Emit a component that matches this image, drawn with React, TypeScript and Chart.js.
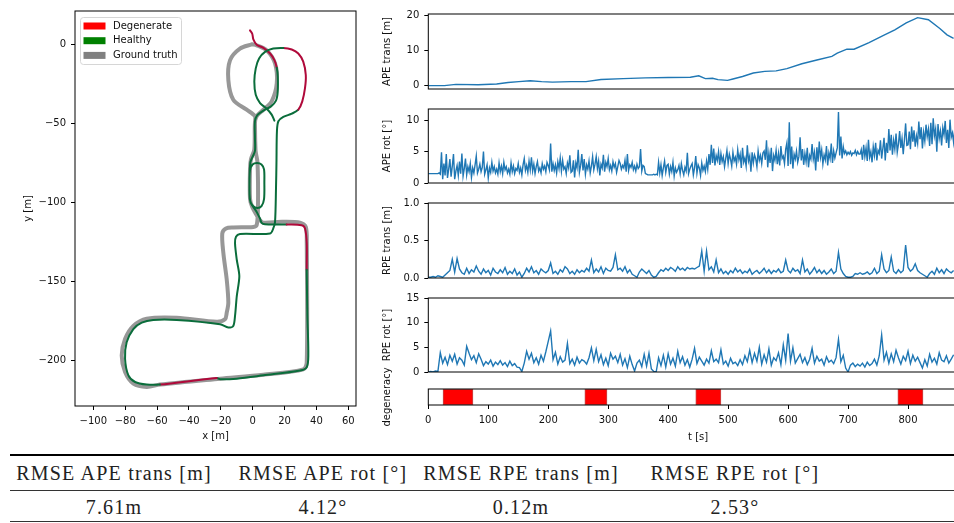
import React, { useEffect, useRef } from 'react';
import { Chart, registerables } from 'chart.js';

Chart.register(...registerables);

// ---------------- trajectory (metres) ----------------
const estX = [-1.7, -0.3, 0.4, 2.5, 6.7, 10.9, 13.6, 15.1, 15.7, 15.7, 14.6, 11.5, 6.7, 2.9, 1.4, 1.4, 1.4, -0.3, -1.5, -2.0,
  -1.7, 0.2, 3.0, 5.5, 7.1, 7.3, 7.1, 5.5, 2.7, -0.1, -1.7, -2.0, -1.4, 2.5, 4.6, 5.6, 7.7, 21.3, 30.7, 32.8,
  33.9, 33.9, 34.3, 34.9, 33.9, 29.7, 6.7, -10.0, -20.5, -22.6, -58.2, -66.5, -73.8, -78.0, -80.1, -79.1, -74.9, -69.6, -62.4, -47.7,
  -20.5, -15.3, -12.2, -11.1, -10.0, -8.4, -10.0, -11.1, -10.5, -8.0, 10.9, 12.9, 14.0, 14.6, 14.9, 15.2, 16.1, 19.2, 24.5, 28.6,
  31.1, 32.8, 33.3, 31.7, 28.6, 24.5, 19.2, 12.9, 7.7, 4.0, 1.9, 1.0, 1.9, 4.6, 8.8, 11.9, 13.6];
const estY = [8.8, 6.7, 3.1, -0.2, -2.3, -5.8, -10.0, -14.8, -20.4, -29.8, -35.7, -39.3, -42.0, -44.9, -48.7, -59.1, -67.5, -71.7, -74.8, -87.3,
  -98.6, -102.4, -103.6, -102.4, -98.0, -87.3, -79.2, -76.1, -75.2, -76.1, -79.8, -90.5, -99.9, -106.1, -110.4, -113.1, -114.0, -114.1, -114.5, -116.6,
  -126.0, -142.7, -172.0, -197.1, -204.4, -206.5, -209.6, -211.7, -212.1, -211.3, -215.4, -215.4, -213.8, -209.6, -199.1, -188.7, -180.3, -176.2, -174.5, -174.5,
  -177.2, -179.3, -178.3, -172.0, -159.4, -146.9, -136.4, -126.0, -121.8, -120.1, -119.8, -116.6, -112.4, -91.5, -74.8, -54.9, -48.7, -46.0, -43.9, -41.4,
  -36.1, -27.8, -19.4, -11.0, -5.8, -3.3, -2.3, -2.7, -4.8, -9.0, -15.2, -23.6, -32.0, -37.2, -40.8, -44.5, -48.3];
// 1 = the segment starting at this pose was flagged degenerate
const estDegenerate = [1, 1, 1, 1, 1, 1, 1, 0, 0, 0, 0, 0, 0, 0, 0, 0, 0, 0, 0, 0,
  0, 0, 0, 0, 0, 0, 0, 0, 0, 0, 0, 0, 0, 0, 0, 0, 0, 1, 1, 1,
  1, 0, 0, 0, 0, 0, 0, 0, 0, 1, 0, 0, 0, 0, 0, 0, 0, 0, 0, 0,
  0, 0, 0, 0, 0, 0, 0, 0, 0, 0, 0, 0, 0, 0, 0, 0, 0, 0, 0, 1,
  1, 1, 1, 1, 1, 1, 0, 0, 0, 0, 0, 0, 0, 0, 0, 0, 0];
const gtX = [-0.6, 2.5, 8.8, 14.0, 15.1, 11.9, 6.7, 2.5, 1.4, 1.0, -1.1, -1.7, -1.7, -0.3, 2.5, 4.6, 6.7, 18.2, 29.7, 33.3,
  33.9, 33.9, 31.7, 6.7, -20.5, -58.2, -66.5, -74.9, -80.1, -82.2, -80.1, -74.9, -66.5, -47.7, -22.6, -17.4, -16.3, -15.3, -16.3, -18.4,
  -19.1, -16.8, -12.2, 0.4, 2.5, 3.3, 3.0, 1.8, 1.4, 1.4, -3.8, -12.2, -15.3, -14.2, -8.0, -0.6];
const gtY = [0, -0.6, -3.8, -12.1, -24.6, -36.1, -41.4, -45.5, -49.7, -66.5, -72.7, -79.0, -97.8, -103.0, -108.2, -111.4, -112.9, -112.4, -112.9, -115.6,
  -125.0, -201.3, -205.8, -209.2, -211.7, -215.4, -216.9, -214.8, -207.5, -197.1, -186.6, -178.3, -173.7, -173.1, -175.7, -174.1, -169.9, -163.6, -149.0, -132.3,
  -119.8, -116.6, -116.0, -115.6, -114.5, -103.0, -74.8, -67.3, -49.7, -45.5, -41.4, -35.1, -22.6, -10.0, -2.7, 0];

const trajXTicks = [-100, -80, -60, -40, -20, 0, 20, 40, 60];
const trajYTicks = [0, -50, -100, -150, -200];
const legendLabels = ['Degenerate', 'Healthy', 'Ground truth'];
const legendColors = ['#ff0000', '#008000', '#808080'];

// ---------------- error time series ----------------
const apeTransT = [0, 27, 46, 83, 114, 133, 151, 170, 189, 207, 238, 263, 288, 325, 362, 400, 437, 451, 462, 474, 483, 499,
  508, 524, 542, 561, 580, 598, 623, 648, 673, 682, 698, 710, 735, 760, 778, 797, 816, 834, 853, 865, 876];
const apeTransV = [0, 0, 0.35, 0.26, 0.44, 0.9, 1.15, 1.4, 1.15, 1.0, 1.15, 1.15, 1.75, 2.0, 2.2, 2.3, 2.4, 2.8, 2.0, 2.1, 1.7, 1.5,
  1.9, 2.6, 3.6, 4.05, 4.2, 4.85, 6.25, 7.3, 8.35, 9.25, 10.4, 10.4, 12.3, 14.4, 15.9, 17.9, 19.4, 18.8, 16.3, 14.5, 13.5];

const apeRotStep = 2; // seconds between APE rotation samples
const apeRotV = [
  1.5, 1.5, 1.5, 1.5, 1.5, 1.5, 1.5, 1.5, 1.5, 1.6, 1.4, 4.9, 0.6, 3.1, 1.2, 4.6, 0.8, 2.2, 3.8, 1.0,
  2.7, 4.6, 0.6, 1.9, 2.8, 1.2, 3.4, 1.5, 4.7, 1.1, 2.3, 3.9, 1.3, 2.6, 1.8, 3.1, 0.9, 2.4, 1.6, 2.9,
  4.3, 1.6, 2.2, 3.0, 1.8, 2.5, 5.0, 1.4, 2.1, 2.9, 0.8, 2.4, 1.7, 3.3, 1.9, 2.6, 1.6, 2.2, 1.4, 3.2,
  1.8, 2.7, 1.5, 3.3, 2.1, 2.6, 1.6, 2.2, 1.4, 3.2, 1.8, 2.7, 1.5, 2.3, 2.0, 3.1, 1.7, 2.4, 1.3, 2.9,
  3.9, 2.0, 2.8, 1.7, 3.5, 2.1, 4.1, 1.9, 3.0, 1.5, 2.6, 3.4, 1.9, 2.4, 1.6, 3.1, 2.2, 2.7, 1.8, 3.3,
  2.8, 2.1, 6.3, 1.8, 3.1, 2.0, 2.9, 1.6, 3.4, 2.3, 4.0, 1.9, 3.6, 2.2, 2.6, 1.5, 3.2, 2.4, 4.4, 1.7,
  1.9, 3.6, 0.9, 3.2, 2.4, 5.3, 1.7, 2.8, 4.6, 2.0, 3.8, 1.4, 2.9, 2.2, 3.5, 1.6, 2.7, 4.2, 2.1, 3.0,
  4.2, 2.3, 3.5, 1.2, 3.0, 2.4, 4.5, 1.8, 3.3, 2.6, 3.9, 2.1, 2.8, 1.9, 3.4, 2.5, 3.1, 1.7, 2.6, 3.6,
  3.1, 2.2, 2.8, 2.4, 3.6, 1.8, 4.6, 2.0, 2.9, 2.5, 3.3, 2.1, 2.7, 1.9, 3.0, 2.3, 2.6, 5.4, 1.9, 2.8,
  2.6, 1.5, 1.4, 1.3, 1.3, 1.3, 1.3, 1.3, 1.4, 1.3, 1.4, 1.3, 3.3, 1.6, 2.9, 1.2, 2.4, 3.5, 1.7, 2.8,
  3.0, 1.4, 2.6, 1.8, 3.3, 1.1, 2.4, 1.7, 2.1, 2.8, 1.5, 3.1, 2.0, 1.3, 2.5, 1.9, 4.8, 1.5, 2.2, 2.7,
  3.1, 1.3, 2.4, 4.3, 1.6, 2.9, 2.4, 1.2, 3.2, 2.0, 2.7, 1.8, 3.5, 2.2, 4.6, 2.9, 6.1, 3.2, 5.5, 2.8,
  4.4, 3.6, 5.0, 2.9, 4.7, 3.4, 4.2, 2.6, 3.9, 5.2, 3.1, 4.6, 3.8, 2.7, 4.9, 3.5, 4.1, 3.0, 5.3, 3.7,
  4.6, 2.4, 5.6, 3.3, 4.0, 2.7, 6.0, 3.5, 4.3, 1.8, 4.9, 3.2, 4.5, 3.9, 2.6, 5.1, 3.6, 4.4, 3.1, 4.8,
  5.1, 3.7, 6.8, 2.5, 4.8, 3.2, 5.6, 1.9, 4.4, 3.6, 5.2, 3.0, 4.7, 2.8, 5.9, 3.9, 4.3, 3.1, 5.4, 6.4,
  2.7, 9.7, 3.0, 5.8, 2.3, 4.6, 3.8, 5.1, 3.3, 4.2, 7.3, 3.6, 5.4, 2.9, 4.7, 3.4, 5.6, 2.5, 4.4, 3.8,
  6.2, 3.8, 4.9, 2.0, 5.7, 3.4, 6.6, 4.1, 5.3, 3.0, 4.5, 3.7, 5.9, 2.8, 4.8, 3.9, 6.3, 3.2, 5.1, 4.0,
  4.8, 5.6, 11.3, 4.4, 7.4, 3.9, 5.8, 4.7, 5.1, 4.5, 4.9, 4.6, 5.0, 4.4, 4.8, 4.7, 5.2, 4.5, 5.0, 4.6,
  4.6, 5.3, 3.7, 6.1, 4.2, 5.6, 3.5, 6.9, 4.1, 5.0, 3.3, 5.8, 4.4, 6.4, 3.6, 5.2, 4.7, 6.8, 3.9, 5.5,
  7.2, 3.6, 6.4, 4.8, 8.6, 5.2, 7.7, 4.5, 6.8, 5.4, 7.9, 4.9, 6.2, 8.3, 5.6, 7.1, 4.6, 6.9, 9.5, 6.0,
  6.1, 8.2, 5.4, 9.0, 6.6, 8.4, 5.8, 7.5, 6.3, 9.8, 7.0, 8.9, 5.5, 8.1, 6.7, 9.3, 7.4, 8.6, 5.9, 9.6,
  6.2, 10.3, 7.5, 8.6, 5.0, 9.4, 7.1, 8.3, 6.0, 8.8, 7.7, 9.9, 6.4, 8.5, 5.6, 10.1, 7.3, 8.0, 6.5, 8.7];

const rpeStep = 4; // seconds between RPE samples
const rpeTransV = [
  0.01, 0.01, 0.02, 0.01, 0.03, 0.02, 0.01, 0.04, 0.07, 0.10,
  0.25, 0.08, 0.26, 0.12, 0.07, 0.05, 0.13, 0.06, 0.11, 0.08,
  0.16, 0.09, 0.05, 0.12, 0.07, 0.10, 0.04, 0.13, 0.08, 0.06,
  0.11, 0.07, 0.14, 0.05, 0.09, 0.06, 0.12, 0.04, 0.08, 0.01,
  0.06, 0.13, 0.08, 0.15, 0.07, 0.10, 0.05, 0.12, 0.09, 0.07,
  0.10, 0.20, 0.06, 0.09, 0.05, 0.11, 0.08, 0.15, 0.12, 0.06,
  0.09, 0.05, 0.11, 0.07, 0.10, 0.08, 0.13, 0.09, 0.24, 0.07,
  0.12, 0.08, 0.15, 0.06, 0.13, 0.10, 0.09, 0.14, 0.31, 0.11,
  0.13, 0.09, 0.15, 0.07, 0.11, 0.05, 0.03, 0.01, 0.08, 0.12,
  0.09, 0.06, 0.10, 0.04, 0.01, 0.02, 0.07, 0.11, 0.09, 0.13,
  0.10, 0.14, 0.12, 0.09, 0.15, 0.11, 0.13, 0.10, 0.14, 0.12,
  0.13, 0.12, 0.14, 0.16, 0.36, 0.09, 0.36, 0.11, 0.15, 0.08,
  0.24, 0.07, 0.12, 0.06, 0.09, 0.05, 0.10, 0.07, 0.13, 0.08,
  0.11, 0.06, 0.09, 0.07, 0.12, 0.05, 0.08, 0.10, 0.06, 0.09,
  0.13, 0.07, 0.11, 0.06, 0.10, 0.08, 0.12, 0.07, 0.09, 0.24,
  0.10, 0.07, 0.13, 0.09, 0.11, 0.06, 0.24, 0.08, 0.12, 0.05,
  0.09, 0.14, 0.07, 0.11, 0.06, 0.10, 0.05, 0.08, 0.12, 0.06,
  0.09, 0.34, 0.12, 0.06, 0.02, 0.01, 0.01, 0.02, 0.06, 0.05,
  0.07, 0.05, 0.06, 0.08, 0.05, 0.07, 0.13, 0.06, 0.09, 0.31,
  0.12, 0.07, 0.10, 0.28, 0.09, 0.06, 0.11, 0.07, 0.10, 0.44,
  0.14, 0.09, 0.12, 0.19, 0.10, 0.07, 0.05, 0.03, 0.01, 0.06,
  0.09, 0.05, 0.13, 0.07, 0.11, 0.06, 0.12, 0.09, 0.07, 0.10];
const rpeRotV = [
  0.0, 0.1, 0.0, 0.2, 0.1, 3.9, 1.8, 3.0, 1.5, 3.4,
  2.2, 3.6, 1.6, 2.9, 2.4, 1.4, 5.2, 3.8, 2.5, 3.3,
  1.9, 3.7, 2.6, 1.3, 2.1, 1.6, 2.4, 1.2, 2.0, 1.5,
  2.3, 1.4, 1.9, 1.1, 2.2, 1.3, 1.7, 1.0, 0.9, 0.1,
  1.8, 4.2, 2.6, 3.8, 1.9, 2.9, 1.6, 3.4, 2.2, 4.1,
  6.2, 8.3, 2.5, 4.0, 1.6, 3.1, 2.0, 2.4, 5.8, 1.7,
  2.6, 1.4, 3.0, 1.8, 2.5, 2.2, 1.6, 2.9, 4.9, 2.3,
  4.6, 2.1, 3.5, 1.5, 2.8, 1.3, 3.8, 2.6, 3.2, 1.9,
  3.6, 1.4, 2.7, 0.9, 3.2, 1.5, 0.2, 1.8, 2.4, 1.1,
  3.6, 1.2, 3.8, 0.6, 0.1, 0.0, 2.9, 1.3, 3.4, 1.0,
  3.7, 1.6, 2.8, 1.2, 4.2, 1.9, 3.1, 1.4, 2.5, 1.0,
  2.6, 4.8, 1.7, 3.0, 2.2, 1.4, 2.6, 1.8, 4.3, 2.1,
  2.6, 1.9, 4.5, 1.6, 2.2, 1.2, 2.8, 1.7, 2.0, 1.3,
  2.5, 1.5, 3.3, 2.1, 4.4, 1.9, 3.8, 2.2, 5.0, 1.6,
  3.5, 2.0, 4.7, 1.4, 2.9, 2.3, 3.9, 1.5, 5.5, 2.4,
  7.8, 2.2, 4.9, 1.8, 2.7, 3.6, 1.9, 2.9, 1.5, 2.6,
  4.8, 1.8, 3.2, 2.2, 2.6, 1.4, 3.1, 2.0, 2.4, 1.7,
  2.9, 6.6, 2.1, 3.4, 0.8, 0.0, 1.4, 1.8, 1.1, 1.6,
  1.2, 1.8, 1.0, 2.0, 1.3, 1.7, 2.6, 1.4, 3.3, 7.5,
  2.4, 4.0, 1.8, 3.7, 2.1, 4.4, 2.9, 1.6, 3.2, 2.3,
  4.2, 1.7, 3.4, 2.2, 3.0, 1.9, 0.8, 2.5, 1.2, 3.6,
  2.0, 2.8, 1.6, 3.9, 2.4, 2.1, 3.3, 1.8, 2.6, 3.5];

// degenerate intervals [s]
const degenStart = [24.5, 261, 446, 783];
const degenEnd = [74.5, 298, 488, 825];
const timeTicks = [0, 100, 200, 300, 400, 500, 600, 700, 800];

// ---------------- summary table ----------------
const tableHeaders = ['RMSE APE trans [m]', 'RMSE APE rot [°]', 'RMSE RPE trans [m]', 'RMSE RPE rot [°]'];
const tableValues = ['7.61m', '4.12°', '0.12m', '2.53°'];

// ---------------- styling ----------------
const FONT = "'DejaVu Sans', sans-serif";
const TEXT = '#111';
const BLUE = '#1f77b4';
const TRAJ_RED = '#b0093a';
const TRAJ_GREEN = '#0a6d3b';
const tickFont = { family: FONT, size: 10 };
const colCenters = [114, 323, 521, 735];

const minus = (v: number | string) => String(v).replace('-', '\u2212');

const framePlugin = {
  id: 'frame',
  afterDraw(chart: any) {
    const { ctx, chartArea: a } = chart;
    ctx.save();
    ctx.strokeStyle = '#000';
    ctx.lineWidth = 1;
    ctx.strokeRect(a.left, a.top, a.right - a.left, a.bottom - a.top);
    ctx.restore();
  },
};

const legendPlugin = {
  id: 'trajLegend',
  afterDraw(chart: any) {
    const { ctx, chartArea: a } = chart;
    const x0 = a.left + 5.5;
    const y0 = a.top + 6.5;
    const w = 101;
    const h = 47;
    ctx.save();
    ctx.beginPath();
    ctx.roundRect(x0, y0, w, h, 3);
    ctx.fillStyle = 'rgba(255,255,255,0.8)';
    ctx.fill();
    ctx.strokeStyle = '#d6d6d6';
    ctx.lineWidth = 1;
    ctx.stroke();
    ctx.font = `10px ${FONT}`;
    ctx.textBaseline = 'middle';
    legendLabels.forEach((label, i) => {
      const cy = y0 + 8.5 + i * 14.7;
      ctx.fillStyle = legendColors[i];
      ctx.fillRect(x0 + 3, cy - 3.5, 22, 7);
      ctx.fillStyle = TEXT;
      ctx.fillText(label, x0 + 32.5, cy);
    });
    ctx.restore();
  },
};

const tickGrid = { drawOnChartArea: false, drawTicks: true, tickLength: 4, color: '#000', tickColor: '#000', tickWidth: 1 };

function setTicks(values: number[]) {
  return (axis: any) => {
    axis.ticks = values.map((v) => ({ value: v }));
  };
}

function trajConfig(): any {
  return {
    type: 'scatter',
    data: {
      datasets: [
        {
          label: 'Estimate',
          data: estX.map((x, i) => ({ x, y: estY[i] })),
          showLine: true,
          pointRadius: 0,
          borderWidth: 2,
          tension: 0.3,
          borderColor: TRAJ_GREEN,
          borderJoinStyle: 'round',
          borderCapStyle: 'round',
          segment: {
            borderColor: (c: any) => (estDegenerate[c.p0DataIndex] ? TRAJ_RED : TRAJ_GREEN),
          },
        },
        {
          label: 'Ground truth',
          data: gtX.map((x, i) => ({ x, y: gtY[i] })),
          showLine: true,
          pointRadius: 0,
          borderWidth: 4,
          tension: 0.3,
          borderColor: 'rgba(128,128,128,0.82)',
          borderJoinStyle: 'round',
          borderCapStyle: 'round',
        },
      ],
    },
    options: {
      responsive: false,
      animation: false,
      devicePixelRatio: 1,
      layout: { padding: { top: 7, right: 14, left: 0, bottom: 0 } },
      plugins: { legend: { display: false }, tooltip: { enabled: false } },
      scales: {
        x: {
          type: 'linear',
          min: -111.5,
          max: 64.8,
          afterBuildTicks: setTicks(trajXTicks),
          afterFit: (ax: any) => { ax.height = 39; },
          grid: tickGrid,
          border: { display: false },
          ticks: { padding: 5, color: TEXT, font: tickFont, maxRotation: 0, autoSkip: false, callback: (v: any) => minus(v) },
          title: { display: true, text: 'x [m]', color: TEXT, font: tickFont, padding: { top: 0, bottom: 3 } },
        },
        y: {
          type: 'linear',
          min: -229,
          max: 21.1,
          afterBuildTicks: setTicks(trajYTicks),
          afterFit: (ax: any) => { ax.width = 75; },
          grid: tickGrid,
          border: { display: false },
          ticks: { padding: 5, color: TEXT, font: tickFont, autoSkip: false, callback: (v: any) => minus(v) },
          title: { display: true, text: 'y [m]', color: TEXT, font: tickFont, padding: { top: 22, bottom: 0 } },
        },
      },
    },
    plugins: [framePlugin, legendPlugin],
  };
}

const AXIS_W = 58.3;

function seriesConfig(ts: number[], vs: number[], yMin: number, yMax: number, yTicks: number[], title: string, decimals: number): any {
  return {
    type: 'scatter',
    data: {
      datasets: [
        {
          data: vs.map((v, i) => ({ x: ts[i], y: v })),
          showLine: true,
          pointRadius: 0,
          borderWidth: 1.4,
          borderColor: BLUE,
          tension: 0,
        },
      ],
    },
    options: {
      responsive: false,
      animation: false,
      devicePixelRatio: 1,
      layout: { padding: { top: 8, right: 6, left: 0, bottom: 8 } },
      plugins: { legend: { display: false }, tooltip: { enabled: false } },
      scales: {
        x: { type: 'linear', min: 0, max: 900, display: false },
        y: {
          type: 'linear',
          min: yMin,
          max: yMax,
          afterBuildTicks: setTicks(yTicks),
          afterFit: (ax: any) => { ax.width = AXIS_W; },
          grid: tickGrid,
          border: { display: false },
          ticks: { padding: 5, color: TEXT, font: tickFont, autoSkip: false, callback: (v: any) => Number(v).toFixed(decimals) },
          title: { display: true, text: title, color: TEXT, font: tickFont, padding: { top: 11, bottom: 0 } },
        },
      },
    },
    plugins: [framePlugin],
  };
}

function degeneracyConfig(): any {
  return {
    type: 'bar',
    data: {
      labels: [''],
      datasets: degenStart.map((s, i) => ({
        data: [[s, degenEnd[i]]],
        backgroundColor: '#ff0000',
        borderColor: 'rgba(170,0,0,0.7)',
        borderWidth: 1,
        borderSkipped: false,
        barPercentage: 1,
        categoryPercentage: 1,
        grouped: false,
      })),
    },
    options: {
      indexAxis: 'y',
      responsive: false,
      animation: false,
      devicePixelRatio: 1,
      layout: { padding: { top: 49, right: 6, left: 0, bottom: 0 } },
      plugins: { legend: { display: false }, tooltip: { enabled: false } },
      scales: {
        x: {
          type: 'linear',
          min: 0,
          max: 900,
          afterBuildTicks: setTicks(timeTicks),
          afterFit: (ax: any) => { ax.height = 40; },
          grid: tickGrid,
          border: { display: false },
          ticks: { padding: 5, color: TEXT, font: tickFont, maxRotation: 0, autoSkip: false },
          title: { display: true, text: 't [s]', color: TEXT, font: tickFont, padding: { top: 0, bottom: 2 } },
        },
        y: {
          type: 'category',
          afterFit: (ax: any) => { ax.width = AXIS_W; },
          grid: { display: false },
          border: { display: false },
          ticks: { display: false },
          title: { display: true, text: 'degeneracy', color: TEXT, font: tickFont, padding: { top: 11, bottom: 0 } },
        },
      },
    },
    plugins: [framePlugin],
  };
}

function ChartBox({ left, top, width, height, make }: { left: number; top: number; width: number; height: number; make: () => any }) {
  const ref = useRef<HTMLCanvasElement | null>(null);
  useEffect(() => {
    const chart = new Chart(ref.current as HTMLCanvasElement, make());
    return () => chart.destroy();
  }, []);
  return (
    <canvas
      ref={ref}
      width={width}
      height={height}
      style={{ position: 'absolute', left, top, width, height, display: 'block' }}
    />
  );
}

const apeRotT = apeRotV.map((_, i) => i * apeRotStep);
const rpeT = rpeTransV.map((_, i) => i * rpeStep);

export default function App() {
  const serif = "'Liberation Serif', 'Times New Roman', serif";
  const cell = (text: string, cx: number, top: number, key: string) => (
    <div
      key={key}
      style={{
        position: 'absolute',
        left: cx - 150,
        width: 300,
        top,
        height: 24,
        lineHeight: '24px',
        textAlign: 'center',
        fontFamily: serif,
        fontSize: 20,
        letterSpacing: 1.2,
        color: '#222',
        whiteSpace: 'nowrap',
      }}
    >
      {text}
    </div>
  );
  return (
    <div style={{ position: 'fixed', left: 0, top: 0, width: 954, height: 523, overflow: 'hidden', background: '#fff' }}>
      <ChartBox left={0} top={0} width={370} height={445} make={trajConfig} />
      <ChartBox left={370} top={3} width={604} height={97}
        make={() => seriesConfig(apeTransT, apeTransV, -0.97, 20.45, [0, 10, 20], 'APE trans [m]', 0)} />
      <ChartBox left={370} top={98} width={604} height={96}
        make={() => seriesConfig(apeRotT, apeRotV, 0, 11.8, [0, 5, 10], 'APE rot [°]', 0)} />
      <ChartBox left={370} top={192} width={604} height={97}
        make={() => seriesConfig(rpeT, rpeTransV, 0, 1, [0, 0.5, 1], 'RPE trans [m]', 1)} />
      <ChartBox left={370} top={287} width={604} height={96}
        make={() => seriesConfig(rpeT, rpeRotV, 0, 15, [0, 5, 10, 15], 'RPE rot [°]', 0)} />
      <ChartBox left={370} top={340} width={604} height={105} make={degeneracyConfig} />

      <div style={{ position: 'absolute', left: 10, top: 454, width: 960, height: 2, background: '#000' }} />
      <div style={{ position: 'absolute', left: 10, top: 490, width: 960, height: 1, background: '#333' }} />
      <div style={{ position: 'absolute', left: 10, top: 521, width: 960, height: 1, background: '#333' }} />
      {tableHeaders.map((h, i) => cell(h, colCenters[i], 461, 'h' + i))}
      {tableValues.map((v, i) => cell(v, colCenters[i], 495, 'v' + i))}
    </div>
  );
}
